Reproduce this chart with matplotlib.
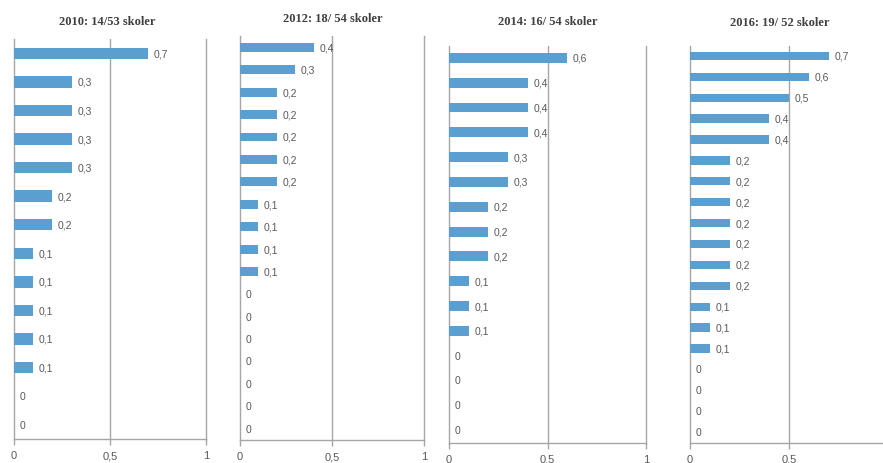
import matplotlib
matplotlib.use("Agg")
import matplotlib.pyplot as plt

titles = ["2010: 14/53 skoler", "2012: 18/ 54 skoler", "2014: 16/ 54 skoler", "2016: 19/ 52 skoler"]
v2010 = [0.7, 0.3, 0.3, 0.3, 0.3, 0.2, 0.2, 0.1, 0.1, 0.1, 0.1, 0.1, 0, 0]
v2012 = [0.4, 0.3, 0.2, 0.2, 0.2, 0.2, 0.2, 0.1, 0.1, 0.1, 0.1, 0, 0, 0, 0, 0, 0, 0]
v2014 = [0.6, 0.4, 0.4, 0.4, 0.3, 0.3, 0.2, 0.2, 0.2, 0.1, 0.1, 0.1, 0, 0, 0, 0]
v2016 = [0.7, 0.6, 0.5, 0.4, 0.4, 0.2, 0.2, 0.2, 0.2, 0.2, 0.2, 0.2, 0.1, 0.1, 0.1, 0, 0, 0, 0]
xticks = [0, 0.5, 1]
xticklabels = ["0", "0,5", "1"]
# the last panel is cropped at the right edge in the reference, so its "1" is not shown
xticklabels_cropped = ["0", "0,5", ""]

series = [v2010, v2012, v2014, v2016]
tick_label_sets = [xticklabels, xticklabels, xticklabels, xticklabels_cropped]

W, H = 883, 464
fig = plt.figure(figsize=(W / 100, H / 100), dpi=100)

# pixel boxes: left, right, top, bottom
boxes = [(14, 206, 40, 440), (240, 424, 37, 441), (449, 646, 46.5, 443.5), (690, 888, 46.5, 443.5)]
title_pos = [(107, 22), (333, 19), (548, 22), (780, 23)]

bar_color = "#5B9FD0"
grid_color = "#A6A6A6"
text_color = "#595959"
label_fonts = ["Liberation Sans Narrow", "Liberation Sans", "DejaVu Sans"]

for vals, box, title, tp, tls in zip(series, boxes, titles, title_pos, tick_label_sets):
    l, r, t, b = box
    ax = fig.add_axes([l / W, 1 - b / H, (r - l) / W, (b - t) / H])
    n = len(vals)
    ys = list(range(n))
    ax.barh(ys, vals, height=0.4, color=bar_color, zorder=3)
    ax.set_ylim(n - 0.5, -0.5)
    ax.set_xlim(0, 1)
    for y, v in zip(ys, vals):
        lab = ("%.1f" % v).replace(".", ",") if v != 0 else "0"
        ax.annotate(lab, (v, y), xytext=(4, 0), textcoords="offset points",
                    va="center", ha="left", fontsize=7.5, color=text_color,
                    family=label_fonts)
    ax.set_yticks([])
    ax.set_xticks(xticks)
    ax.set_xticklabels(tls, fontsize=8, color=text_color, family=label_fonts)
    ax.tick_params(axis="x", length=4, width=1, color=grid_color, pad=4)
    for s in ["top", "right"]:
        ax.spines[s].set_visible(False)
    for s in ["left", "bottom"]:
        ax.spines[s].set_color(grid_color)
        ax.spines[s].set_linewidth(1)
    ax.axvline(0.5, color=grid_color, lw=1, zorder=1)
    ax.axvline(1.0, color=grid_color, lw=1, zorder=1, clip_on=False)
    fig.text(tp[0] / W, 1 - tp[1] / H, title, ha="center", va="center",
             fontsize=9, fontweight="bold", color="#404040",
             family=["Liberation Serif", "DejaVu Serif"])

fig.savefig("out.png", dpi=100)
